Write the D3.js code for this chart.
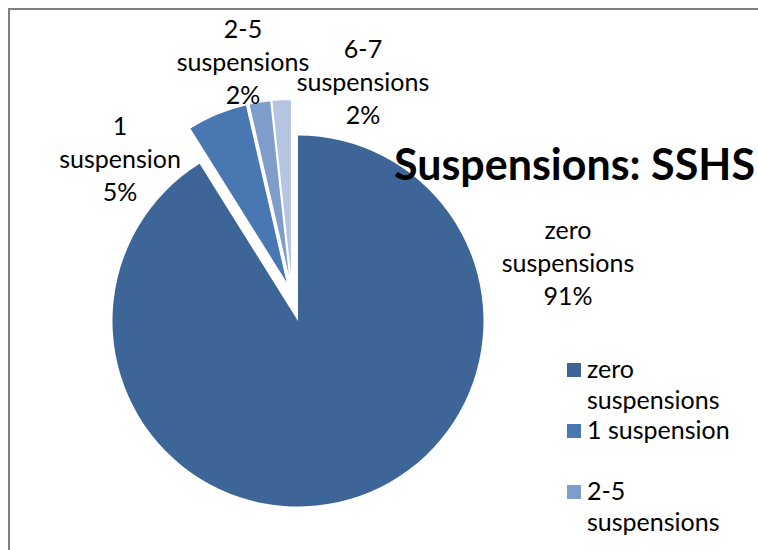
<!DOCTYPE html>
<html>
<head>
<meta charset="utf-8">
<script src="https://cdn.jsdelivr.net/npm/d3@7"></script>
<style>
  html, body { margin: 0; padding: 0; background: #ffffff; overflow: hidden; }
  svg { display: block; }
  text { font-family: Lato, "Open Sans", sans-serif; fill: #000; }
</style>
</head>
<body>
<svg id="chart" width="758" height="550"></svg>
<script>
// ---- data ----
const categories = ["zero suspensions", "1 suspension", "2-5 suspensions", "6-7 suspensions"];
const values = [91.1, 5.3, 1.9, 1.7];
const percentLabels = ["91%", "5%", "2%", "2%"];
const titleText = "Suspensions: SSHS";

// ---- style / layout ----
const colors = ["#3E6597", "#4877B2", "#7F9DCA", "#B4C4E1"];
const W = 758, H = 550;
const cx = 298, cy = 321, R = 185.5;
// explosion offsets (px) for each slice
const explode = [[0, 0], [-10, -35.5], [-7.5, -36], [-6.5, -36.2]];
// data label block centres (first line baseline)
const labelAnchor = [[568, 239], [120, 135], [243, 38], [363, 58]];
const lineH = 33;
const fontSize = 25;

const svg = d3.select("#chart");

// chart-area border
svg.append("rect")
  .attr("x", 9).attr("y", 9)
  .attr("width", W + 20).attr("height", H + 20)
  .attr("fill", "#fff")
  .attr("stroke", "#808080").attr("stroke-width", 2);

const pie = d3.pie().sort(null).value(d => d).startAngle(0).endAngle(2 * Math.PI);
const arcs = pie(values);
const arc = d3.arc().innerRadius(0).outerRadius(R);

const g = svg.append("g").attr("transform", `translate(${cx},${cy})`);
g.selectAll("path.slice")
  .data(arcs)
  .enter().append("path")
  .attr("class", "slice")
  .attr("transform", (d, i) => `translate(${explode[i][0]},${explode[i][1]})`)
  .attr("d", arc)
  .attr("fill", (d, i) => colors[i])
  .attr("stroke", (d, i) => i === 0 ? "none" : "#ffffff")
  .attr("stroke-width", 1.2)
  .attr("stroke-linejoin", "round");

// data labels
const labels = svg.append("g");
categories.forEach((c, i) => {
  const sp = c.indexOf(" ");
  const lines = [c.slice(0, sp), c.slice(sp + 1), percentLabels[i]];
  const t = labels.append("text")
    .attr("text-anchor", "middle")
    .attr("font-size", fontSize);
  lines.forEach((ln, j) => {
    t.append("tspan")
      .attr("x", labelAnchor[i][0])
      .attr("y", labelAnchor[i][1] + j * lineH)
      .text(ln);
  });
});

// title
svg.append("text")
  .attr("x", 394).attr("y", 180)
  .attr("font-size", 44)
  .attr("font-weight", "bold")
  .attr("textLength", 361)
  .attr("lengthAdjust", "spacingAndGlyphs")
  .text(titleText);

// legend (entries that do not fit in the visible area are dropped, as in the original)
const legX = 567, legY0 = 378, slot = 61, legLine = 31, maxW = 150;
const leg = svg.append("g");
categories.forEach((c, i) => {
  const y = legY0 + i * slot;
  // wrap words to fit maxW
  const words = c.split(" ");
  let lines = [], cur = "";
  const probe = leg.append("text").attr("font-size", fontSize);
  words.forEach(w => {
    const test = cur ? cur + " " + w : w;
    probe.text(test);
    if (probe.node().getComputedTextLength() > maxW && cur) {
      lines.push(cur); cur = w;
    } else cur = test;
  });
  lines.push(cur);
  probe.remove();
  if (y - 15 > H - 10) return;
  leg.append("rect")
    .attr("x", legX).attr("y", y - 15)
    .attr("width", 14).attr("height", 14)
    .attr("fill", colors[i]);
  const t = leg.append("text").attr("font-size", fontSize);
  lines.forEach((ln, j) => {
    t.append("tspan").attr("x", legX + 20).attr("y", y + j * legLine).text(ln);
  });
});
</script>
</body>
</html>
